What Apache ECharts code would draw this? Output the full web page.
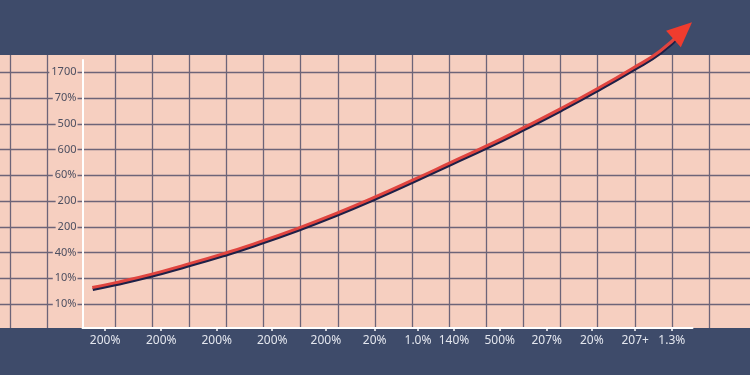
<!DOCTYPE html>
<html><head><meta charset="utf-8">
<script src="https://cdn.jsdelivr.net/npm/echarts@6/dist/echarts.min.js"></script>
<style>html,body{margin:0;padding:0;background:#3e4b6a}#c{width:750px;height:375px}</style>
</head><body><div id="c"></div>
<script>
const xTickLabels = ["200%","200%","200%","200%","200%","20%","1.0%","140%","500%","207%","20%","207+","1.3%"];
const xTickPositions = [3.7,12.9,22.0,31.1,39.9,47.9,55.0,60.9,68.4,76.1,83.5,90.6,96.6];
const yTickLabels = ["10%","10%","40%","200","200","60%","600","500","70%","1700"];
const yTickPositions = [0,1,2,3,4,5,6,7,8,9];
const curveX = [1.6,5.3,11.2,17.1,23.0,27.5,35.3,41.7,47.9,54.2,60.4,66.5,72.4,78.4,84.3,90.2,94.7,98.4];
const curveY = [0.64,0.82,1.15,1.54,1.95,2.29,2.94,3.53,4.15,4.82,5.50,6.17,6.86,7.59,8.35,9.16,9.83,10.62];

const NAVY = '#3e4b6a', PEACH = '#f6cfc0', GRIDC = '#6d6478';
const chart = echarts.init(document.getElementById('c'), null, {renderer:'canvas'});

const data = curveX.map((x,i)=>{
  const item = {value:[x, curveY[i]]};
  if (i === curveX.length-1) {
    item.symbol = 'triangle';
    item.symbolSize = [22, 25];
    item.symbolRotate = -48;
    item.itemStyle = {color:'#f03c2e'};
  }
  return item;
});

function nearestLabel(v, pos, labels){
  let best = 0, d = Infinity;
  pos.forEach((p,i)=>{ const dd = Math.abs(p-v); if (dd<d){d=dd;best=i;} });
  return d < 0.5 ? labels[best] : '';
}

const hiddenAxis = (gi, extra) => Object.assign({
  gridIndex: gi, type:'value', axisLine:{show:false}, axisTick:{show:false},
  axisLabel:{show:false}, splitLine:{show:false}
}, extra||{});

const option = {
  backgroundColor: NAVY,
  animation: false,
  graphic: [{type:'rect', z:-10, silent:true, shape:{x:0,y:55,width:750,height:273}, style:{fill:PEACH}}],
  grid: [
    {left:10, top:55, width:37, bottom:47},
    {left:115, top:55, width:594, bottom:47},
    {left:0, right:0, top:72.3, height:231.7},
    {left:82.5, right:57.5, top:60, bottom:47}
  ],
  xAxis: [
    hiddenAxis(0, {min:0, max:1, interval:1, splitLine:{show:true, lineStyle:{color:GRIDC, width:1.3}}}),
    hiddenAxis(1, {min:0, max:16, interval:1, splitLine:{show:true, lineStyle:{color:GRIDC, width:1.3}}}),
    hiddenAxis(2, {min:0, max:1}),
    {
      gridIndex:3, type:'value', min:0, max:100, z:5,
      axisLine:{show:true, onZero:false, lineStyle:{color:'#ffffff', width:2}},
      axisTick:{show:true, length:3, customValues:xTickPositions, lineStyle:{color:'#ffffff', width:1.5}},
      axisLabel:{show:true, customValues:xTickPositions, margin:7, color:'#e3e6ee', fontSize:12,
        fontFamily:'Noto Sans', formatter:(v)=>nearestLabel(v, xTickPositions, xTickLabels)},
      splitLine:{show:false}
    }
  ],
  yAxis: [
    hiddenAxis(0, {min:0, max:1}),
    hiddenAxis(1, {min:0, max:1}),
    hiddenAxis(2, {min:0, max:9, interval:1, splitLine:{show:true, lineStyle:{color:GRIDC, width:1.3}}}),
    {
      gridIndex:3, type:'value', min:-0.932, max:9.479, z:5,
      axisLine:{show:true, onZero:false, lineStyle:{color:'#ffffff', width:2}},
      axisTick:{show:false},
      axisLabel:{show:true, customValues:yTickPositions, margin:5, color:'#4d4f60', fontSize:11,
        fontFamily:'Noto Sans', backgroundColor:PEACH, padding:[0,1,0,2],
        formatter:(v)=>nearestLabel(v, yTickPositions, yTickLabels)},
      splitLine:{show:false}
    }
  ],
  series: [{
    type:'line', xAxisIndex:3, yAxisIndex:3, z:6, clip:false,
    smooth:0.5, symbol:'none', showSymbol:true, showAllSymbol:true,
    data: data,
    lineStyle:{color:'#e0443f', width:3, shadowColor:'#1d2047', shadowOffsetX:0.5, shadowOffsetY:2, shadowBlur:0}
  }]
};
chart.setOption(option);
</script></body></html>
